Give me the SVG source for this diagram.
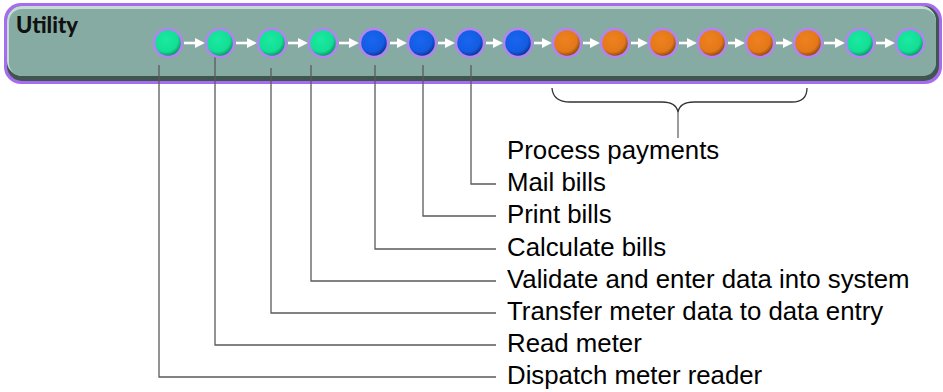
<svg xmlns="http://www.w3.org/2000/svg" width="943" height="392" viewBox="0 0 943 392">
<defs>
<radialGradient id="gG" cx="0.42" cy="0.38" r="0.62">
<stop offset="0" stop-color="#1CEAA2"/><stop offset="0.7" stop-color="#12DE94"/><stop offset="1" stop-color="#0A8A5E"/>
</radialGradient>
<radialGradient id="gB" cx="0.42" cy="0.38" r="0.62">
<stop offset="0" stop-color="#1A66F0"/><stop offset="0.7" stop-color="#135CE2"/><stop offset="1" stop-color="#0A2F86"/>
</radialGradient>
<radialGradient id="gO" cx="0.42" cy="0.38" r="0.62">
<stop offset="0" stop-color="#EE8220"/><stop offset="0.7" stop-color="#E47818"/><stop offset="1" stop-color="#7E420C"/>
</radialGradient>
<marker id="ah" markerWidth="4" markerHeight="4" refX="2.5" refY="2" orient="auto" markerUnits="strokeWidth">
<path d="M0,0 L4,2 L0,4 Z" fill="#FFFFFF"/>
</marker>
<style>
.c{stroke:#B383F2;stroke-width:2.5}
.g{fill:url(#gG)} .b{fill:url(#gB)} .o{fill:url(#gO)}
.ar{stroke:#FFFFFF;stroke-width:2.6;fill:none;marker-end:url(#ah)}
.ld{stroke:#5A5A5A;stroke-width:1.3;fill:none}
.lbl{font-family:"Liberation Sans",Arial,sans-serif;font-size:25.8px;fill:#000}
.ttl{font-family:Lato,"Liberation Sans",sans-serif;font-weight:900;font-size:22px;fill:#111}
</style>
</defs>

<g id="band">
<rect x="4" y="3" width="938" height="81" rx="17" fill="#A66CF0"/>
<rect x="7" y="6" width="932" height="75" rx="15" fill="#3F5650"/>
<rect x="7" y="6" width="929" height="70" rx="15" fill="#C8DCD6"/>
<rect x="9" y="9" width="927" height="67" rx="13" fill="#86ABA2"/>
<text class="ttl" x="16" y="33">Utility</text>
</g>

<g id="connectors">
<line class="ar" x1="184" y1="43" x2="201" y2="43"/>
<line class="ar" x1="236" y1="43" x2="253" y2="43"/>
<line class="ar" x1="288" y1="43" x2="304" y2="43"/>
<line class="ar" x1="339" y1="43" x2="355" y2="43"/>
<line class="ar" x1="390" y1="43" x2="403" y2="43"/>
<line class="ar" x1="438" y1="43" x2="451" y2="43"/>
<line class="ar" x1="486" y1="43" x2="499" y2="43"/>
<line class="ar" x1="534" y1="43" x2="548" y2="43"/>
<line class="ar" x1="583" y1="43" x2="596" y2="43"/>
<line class="ar" x1="631" y1="43" x2="644" y2="43"/>
<line class="ar" x1="679" y1="43" x2="693" y2="43"/>
<line class="ar" x1="728" y1="43" x2="741" y2="43"/>
<line class="ar" x1="776" y1="43" x2="789" y2="43"/>
<line class="ar" x1="824" y1="43" x2="841" y2="43"/>
<line class="ar" x1="876" y1="43" x2="891" y2="43"/>
<path class="ld" d="M159,65 V377 H496"/>
<path class="ld" d="M215,57 V345 H496"/>
<path class="ld" d="M271,68 V313 H496"/>
<path class="ld" d="M311,65 V281 H496"/>
<path class="ld" d="M375,65 V249 H496"/>
<path class="ld" d="M423,65 V216 H496"/>
<path class="ld" d="M471,65 V184 H496"/>
<path d="M552,88 Q553,102 570,102 H662 Q676,102 678,112 Q680,102 694,102 H792 Q807,102 807,88" stroke="#333" stroke-width="1.3" fill="none"/>
<line x1="678" y1="112" x2="678" y2="138" stroke="#666" stroke-width="1.3"/>
</g>

<g id="n1"><circle class="c g" cx="168" cy="43" r="14"/></g>
<g id="n2"><circle class="c g" cx="220" cy="43" r="14"/></g>
<g id="n3"><circle class="c g" cx="272" cy="43" r="14"/></g>
<g id="n4"><circle class="c g" cx="323" cy="43" r="14"/></g>
<g id="n5"><circle class="c b" cx="374" cy="43" r="14"/></g>
<g id="n6"><circle class="c b" cx="422" cy="43" r="14"/></g>
<g id="n7"><circle class="c b" cx="470" cy="43" r="14"/></g>
<g id="n8"><circle class="c b" cx="518" cy="43" r="14"/></g>
<g id="n9"><circle class="c o" cx="567" cy="43" r="14"/></g>
<g id="n10"><circle class="c o" cx="615" cy="43" r="14"/></g>
<g id="n11"><circle class="c o" cx="663" cy="43" r="14"/></g>
<g id="n12"><circle class="c o" cx="712" cy="43" r="14"/></g>
<g id="n13"><circle class="c o" cx="760" cy="43" r="14"/></g>
<g id="n14"><circle class="c o" cx="808" cy="43" r="14"/></g>
<g id="n15"><circle class="c g" cx="860" cy="43" r="14"/></g>
<g id="n16"><circle class="c g" cx="910" cy="43" r="14"/></g>

<g id="labels">
<text class="lbl" x="507" y="159">Process payments</text>
<text class="lbl" x="507" y="191">Mail bills</text>
<text class="lbl" x="507" y="223">Print bills</text>
<text class="lbl" x="507" y="256">Calculate bills</text>
<text class="lbl" x="507" y="288">Validate and enter data into system</text>
<text class="lbl" x="507" y="320">Transfer meter data to data entry</text>
<text class="lbl" x="507" y="352">Read meter</text>
<text class="lbl" x="507" y="384">Dispatch meter reader</text>
</g>
</svg>
